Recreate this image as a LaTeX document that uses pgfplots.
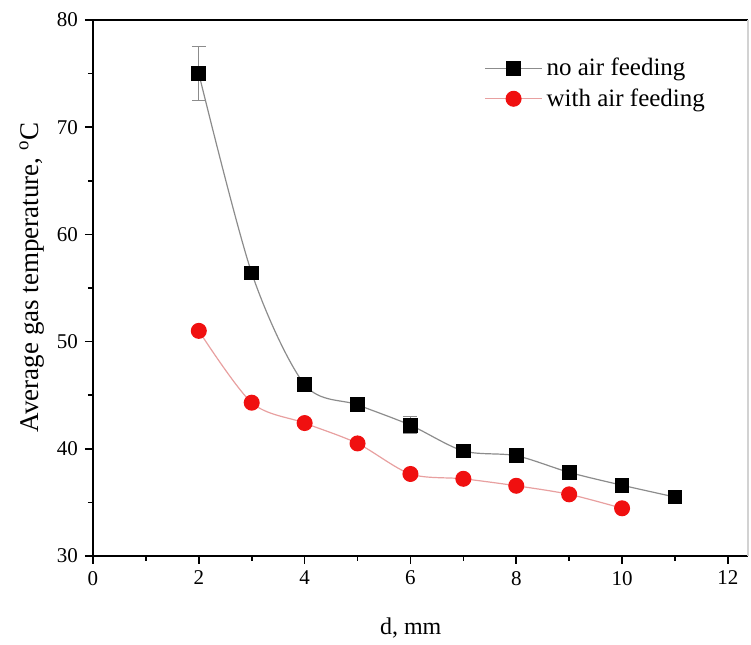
\documentclass[border=0pt]{standalone}
\usepackage{fontspec}
\setmainfont{Liberation Serif}
\usepackage{pgfplots}
\pgfplotsset{compat=1.18}
\usetikzlibrary{calc}
\definecolor{blkline}{HTML}{8C8C8C}
\definecolor{redline}{HTML}{E8A0A0}
\definecolor{redmark}{HTML}{F01010}
\begin{document}
\begin{tikzpicture}
\begin{axis}[
  scale only axis, width=327.5pt, height=268pt,
  xmin=0, xmax=12.38, ymin=30, ymax=80,
  axis x line=box, axis y line=left,
  axis line style={line width=1pt, -},
  xtick pos=bottom,
  xtick={0,2,...,12}, ytick={30,40,...,80},
  minor x tick num=1, minor y tick num=1,
  tick align=outside,
  major tick length=4pt, minor tick length=2.5pt,
  tick style={line width=0.8pt, black},
  /pgf/number format/assume math mode=true,
  tick label style={font=\fontsize{10.5}{12}\selectfont},
  xlabel={d, mm},
  ylabel={Average gas temperature, $^{\mathrm{o}}$C},
  xlabel style={at={(axis description cs:0.485,0)}, anchor=center, yshift=-36pt, font=\fontsize{12}{14}\selectfont},
  ylabel style={at={(axis description cs:0,0.52)}, anchor=center, yshift=30.5pt, font=\fontsize{13.5}{16}\selectfont},
  legend style={at={(axis description cs:0.588,0.945)}, anchor=north west, draw=none, fill=none,
    font=\fontsize{12.5}{15}\selectfont, row sep=1pt},
  legend cell align=left,
  legend image code/.code={\draw[mark repeat=2,mark phase=2] plot coordinates {(0cm,0cm)(0.5cm,0cm)(1cm,0cm)};},
]
\addplot[blkline, line width=0.6pt, smooth, mark=square*, mark size=3.4pt,
  mark options={black, fill=black, solid},
  error bars/.cd, y dir=both, y explicit,
  error bar style={blkline, line width=0.6pt},
  error mark options={rotate=90, mark size=3.5pt, blkline, line width=0.6pt}]
coordinates {
(2,75.0) +- (0,2.5)
(3,56.4) +- (0,0)
(4,46.0) +- (0,0)
(5,44.1) +- (0,0)
(6,42.2) +- (0,0.8)
(7,39.8) +- (0,0)
(8,39.35) +- (0,0)
(9,37.8) +- (0,0)
(10,36.6) +- (0,0)
(11,35.5) +- (0,0)
};
\addlegendentry{no air feeding}
\addplot[redline, line width=0.6pt, smooth, mark=*, mark size=3.7pt,
  mark options={redmark, fill=redmark, solid}]
coordinates {
(2,51.0)
(3,44.3)
(4,42.4)
(5,40.5)
(6,37.65)
(7,37.2)
(8,36.55)
(9,35.75)
(10,34.45)
};
\addlegendentry{with air feeding}
\end{axis}
\draw[gray!35, line width=0.6pt] (current axis.north east) -- (current axis.south east);
\pgfresetboundingbox
\useasboundingbox ($(current axis.south west)+(-46.5pt,-44.5pt)$) rectangle ($(current axis.north east)+(1.5pt,10pt)$);
\end{tikzpicture}
\end{document}
